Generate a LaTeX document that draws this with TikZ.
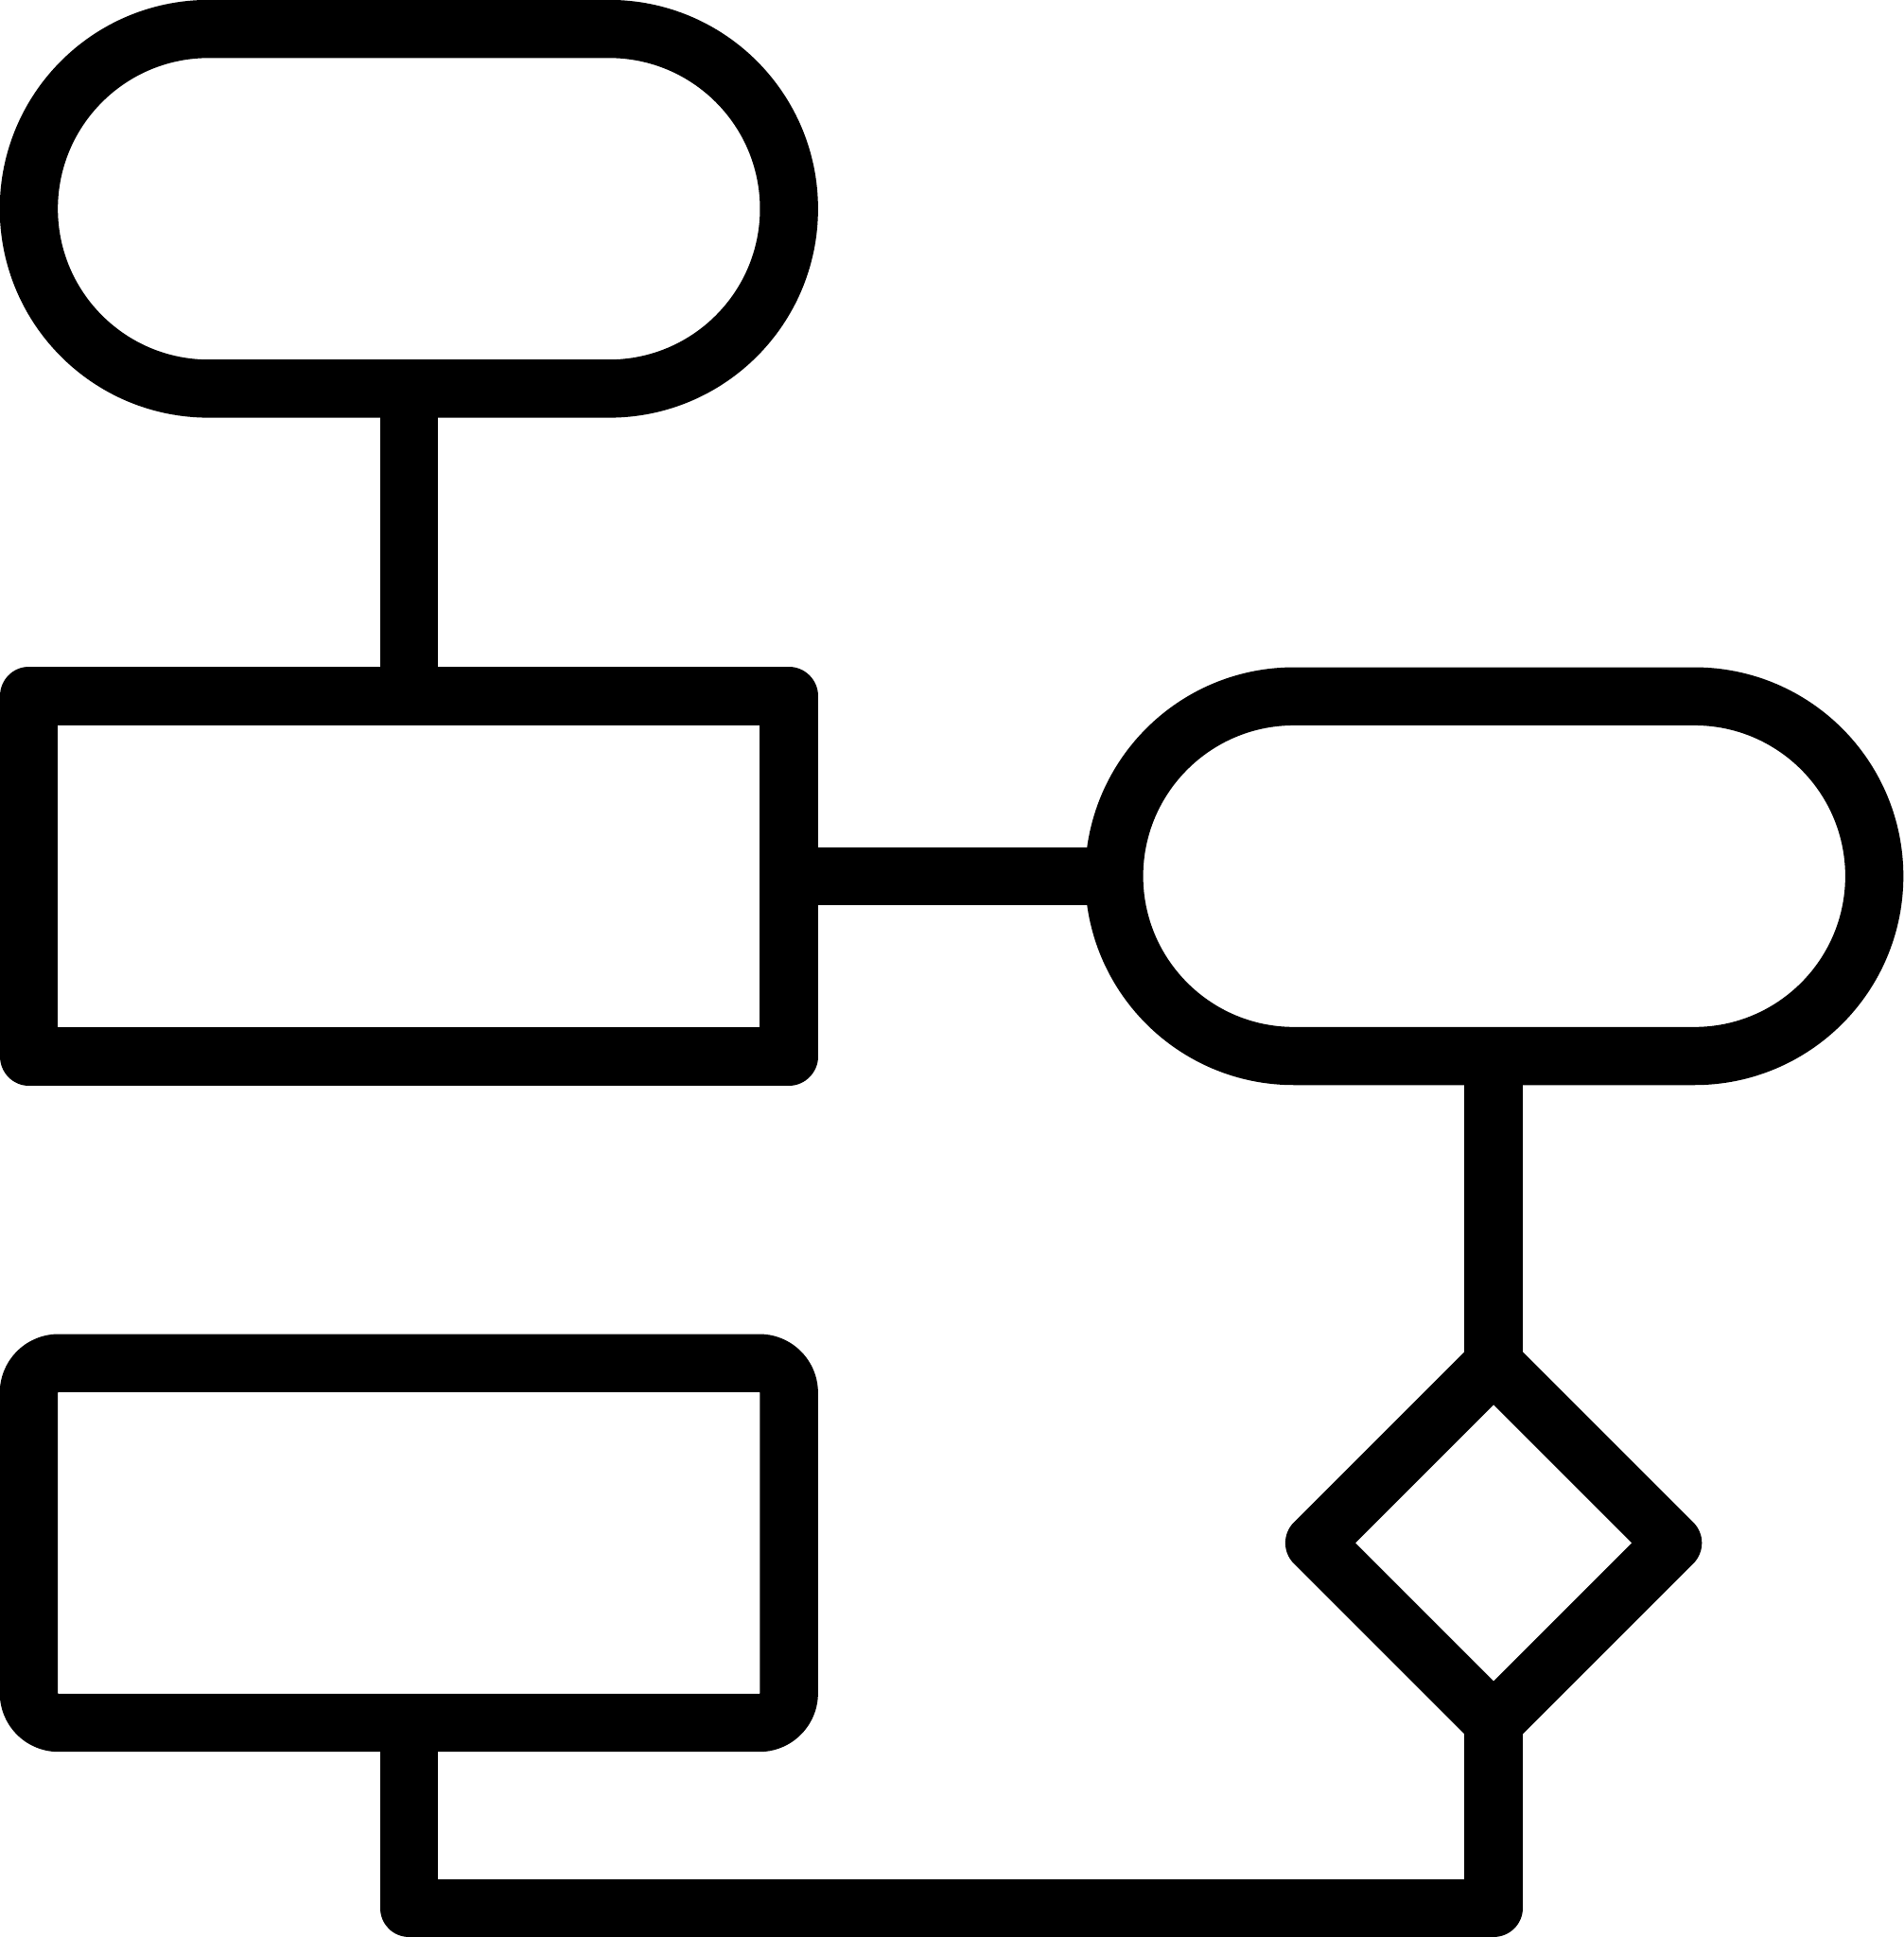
\documentclass[tikz,border=0pt]{standalone}
\usetikzlibrary{shapes.geometric}
\begin{document}
\begin{tikzpicture}[x=0.01cm,y=-0.01cm,
  shp/.style={draw=black,line width=0.47cm,line join=round,outer sep=0pt,inner sep=0pt},
  stadium/.style={shp,rectangle,rounded corners=1.455cm,minimum width=6.15cm,minimum height=2.91cm},
  boxnode/.style={shp,rectangle,minimum width=6.15cm,minimum height=2.915cm},
  rbox/.style={shp,rectangle,rounded corners=0.24cm,minimum width=6.15cm,minimum height=2.91cm},
  dia/.style={shp,diamond,aspect=1,minimum width=2.9cm,minimum height=2.9cm},
  conn/.style={draw=black,line width=0.47cm,line join=round}]
\fill[white] (0,0) rectangle (1541,1568);
\useasboundingbox (0,0) rectangle (1541,1568);
\node[stadium] (top) at (331,169) {};
\node[boxnode] (mid) at (331,709.25) {};
\node[stadium] (right) at (1209.5,709.25) {};
\node[dia] (dec) at (1209,1249) {};
\node[rbox] (low) at (331,1249) {};
\coordinate (base) at (0,1544.5);
\draw[conn] (top.south) -- (mid.north);
\draw[conn] (mid.east) -- (right.west);
\draw[conn] (right.south -| dec.north) -- (dec.north);
\draw[conn] (low.south) -- (low.south |- base) -- (dec.south |- base) -- (dec.south);
\end{tikzpicture}
\end{document}
